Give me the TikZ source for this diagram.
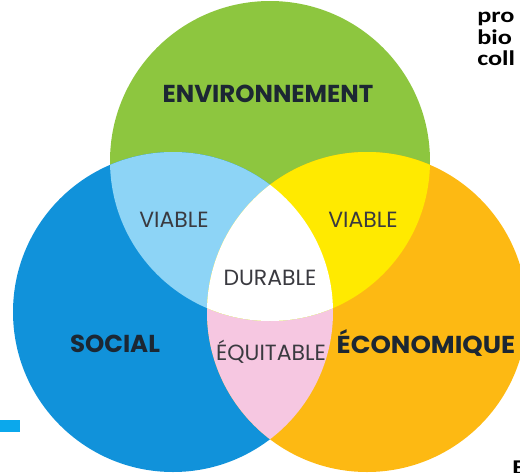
\documentclass[tikz,border=0pt]{standalone}
\usepackage{fontspec}
\newfontfamily\vennfont{Poppins}
\newfontfamily\notefont{Carlito}
\definecolor{envgreen}{HTML}{8DC63F}
\definecolor{socblue}{HTML}{1192DA}
\definecolor{ecoorange}{HTML}{FDB913}
\definecolor{viablue}{HTML}{8DD4F6}
\definecolor{viayellow}{HTML}{FFEA00}
\definecolor{equipink}{HTML}{F6C7E1}
\definecolor{dashblue}{HTML}{0BA8EC}
\definecolor{labelink}{HTML}{1C2733}
\definecolor{smallink}{HTML}{3A3A40}
\begin{document}
\begin{tikzpicture}[x=1pt,y=-1pt,line join=round]
	\tikzset{big label/.style={font=\vennfont\bfseries\fontsize{24.5}{24.5}\selectfont,text=labelink,inner sep=0pt,anchor=base},
		small label/.style={font=\vennfont\fontsize{22}{22}\selectfont,text=smallink,inner sep=0pt,anchor=base},
		note/.style={font=\notefont\bfseries\fontsize{21}{21}\selectfont,anchor=base west,inner sep=0pt,xscale=1.25}}
	\clip (0,0) rectangle (520,472);
	\coordinate (env) at (270,161);
	\coordinate (soc) at (173,312);
	\coordinate (eco) at (367,312);
	% the three circles
	\fill[envgreen] (env) circle[radius=160];
	\fill[socblue] (soc) circle[radius=160];
	\fill[ecoorange] (eco) circle[radius=160];
	\begin{scope}
	\clip (soc) circle[radius=160];
	\fill[equipink] (eco) circle[radius=160];
	\end{scope}
	\begin{scope}
	\clip (env) circle[radius=160];
	\fill[viablue] (soc) circle[radius=160];
	\fill[viayellow] (eco) circle[radius=160];
	\clip (soc) circle[radius=160];
	\fill[white] (eco) circle[radius=160];
	\end{scope}
	% labels
	\node[big label] (environnement) at (268,102) {ENVIRONNEMENT};
	\node[big label] (social) at (115,352) {SOCIAL};
	\node[big label,xscale=1.06] (economique) at (426,353) {ÉCONOMIQUE};
	\node[small label] (viable-l) at (174,227) {VIABLE};
	\node[small label] (viable-r) at (363,227) {VIABLE};
	\node[small label] (durable) at (270,285) {DURABLE};
	\node[small label] (equitable) at (271,360) {ÉQUITABLE};
	% bits of the page around it
	\fill[dashblue] (0,420) rectangle (20,432);
	\node[note] (pro) at (477,22) {pro};
	\node[note] (bio) at (477,44) {bio};
	\node[note] (coll) at (477,65) {coll};
	\node[note] (e) at (512,474) {E};
\end{tikzpicture}
\end{document}
